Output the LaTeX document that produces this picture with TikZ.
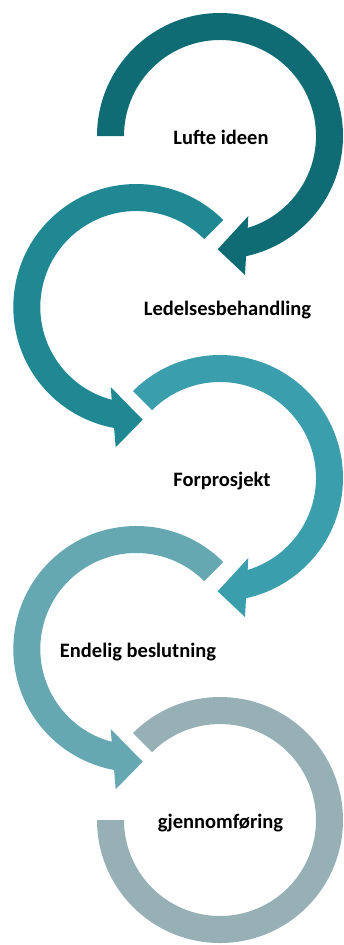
\documentclass[tikz,border=0pt]{standalone}
\usepackage{fontspec}
\setmainfont{Carlito}
\definecolor{cA}{HTML}{0F6C74}
\definecolor{cB}{HTML}{1F8893}
\definecolor{cC}{HTML}{3B9EAC}
\definecolor{cD}{HTML}{66A8B2}
\definecolor{cE}{HTML}{97B0B5}
\begin{document}
\begin{tikzpicture}[x=1pt,y=1pt,
  lbl/.style={font=\bfseries\fontsize{20.5}{24}\selectfont, text=black, anchor=base, inner sep=0pt}]
\useasboundingbox (0,0) rectangle (343,-945);
% arrow 1 (clockwise)
\fill[cA, shift={(220,-136)}] (180:123pt) arc[start angle=180,end angle=-77.78,radius=123pt]
  -- (25,-139) -- (-2.3,-113.3) -- (28.3,-80) -- (-73.24:96pt)
  arc[start angle=-73.24,end angle=180,radius=96pt] -- cycle;
% arrow 2 (counter-clockwise)
\fill[cB, shift={(136.3,-307)}] (45:123pt) arc[start angle=45,end angle=259.6,radius=123pt]
  -- (-20.6,-140.3) -- (6.4,-112.7) -- (-25.6,-80) -- (255.18:96pt)
  arc[start angle=255.18,end angle=45,radius=96pt] -- cycle;
% arrow 3 (clockwise)
\fill[cC, shift={(220,-478)}] (135:123pt) arc[start angle=135,end angle=-77.78,radius=123pt]
  -- (25,-139) -- (-2.3,-113.3) -- (28.3,-80) -- (-73.24:96pt)
  arc[start angle=-73.24,end angle=135,radius=96pt] -- cycle;
% arrow 4 (counter-clockwise)
\fill[cD, shift={(136.3,-649)}] (45:123pt) arc[start angle=45,end angle=259.6,radius=123pt]
  -- (-20.6,-140.3) -- (6.4,-112.7) -- (-25.6,-80) -- (255.18:96pt)
  arc[start angle=255.18,end angle=45,radius=96pt] -- cycle;
% arrow 5 (open ring)
\fill[cE, shift={(220,-820)}] (135:123pt) arc[start angle=135,end angle=-180,radius=123pt]
  -- (180:96pt) arc[start angle=-180,end angle=135,radius=96pt] -- cycle;
% labels
\node[lbl] (t1) at (221,-144) {Lufte ideen};
\node[lbl] (t2) at (227.5,-315) {Ledelsesbehandling};
\node[lbl] (t3) at (222,-486) {Forprosjekt};
\node[lbl] (t4) at (138,-657) {Endelig beslutning};
\node[lbl] (t5) at (220.5,-828) {gjennomføring};
\end{tikzpicture}
\end{document}
